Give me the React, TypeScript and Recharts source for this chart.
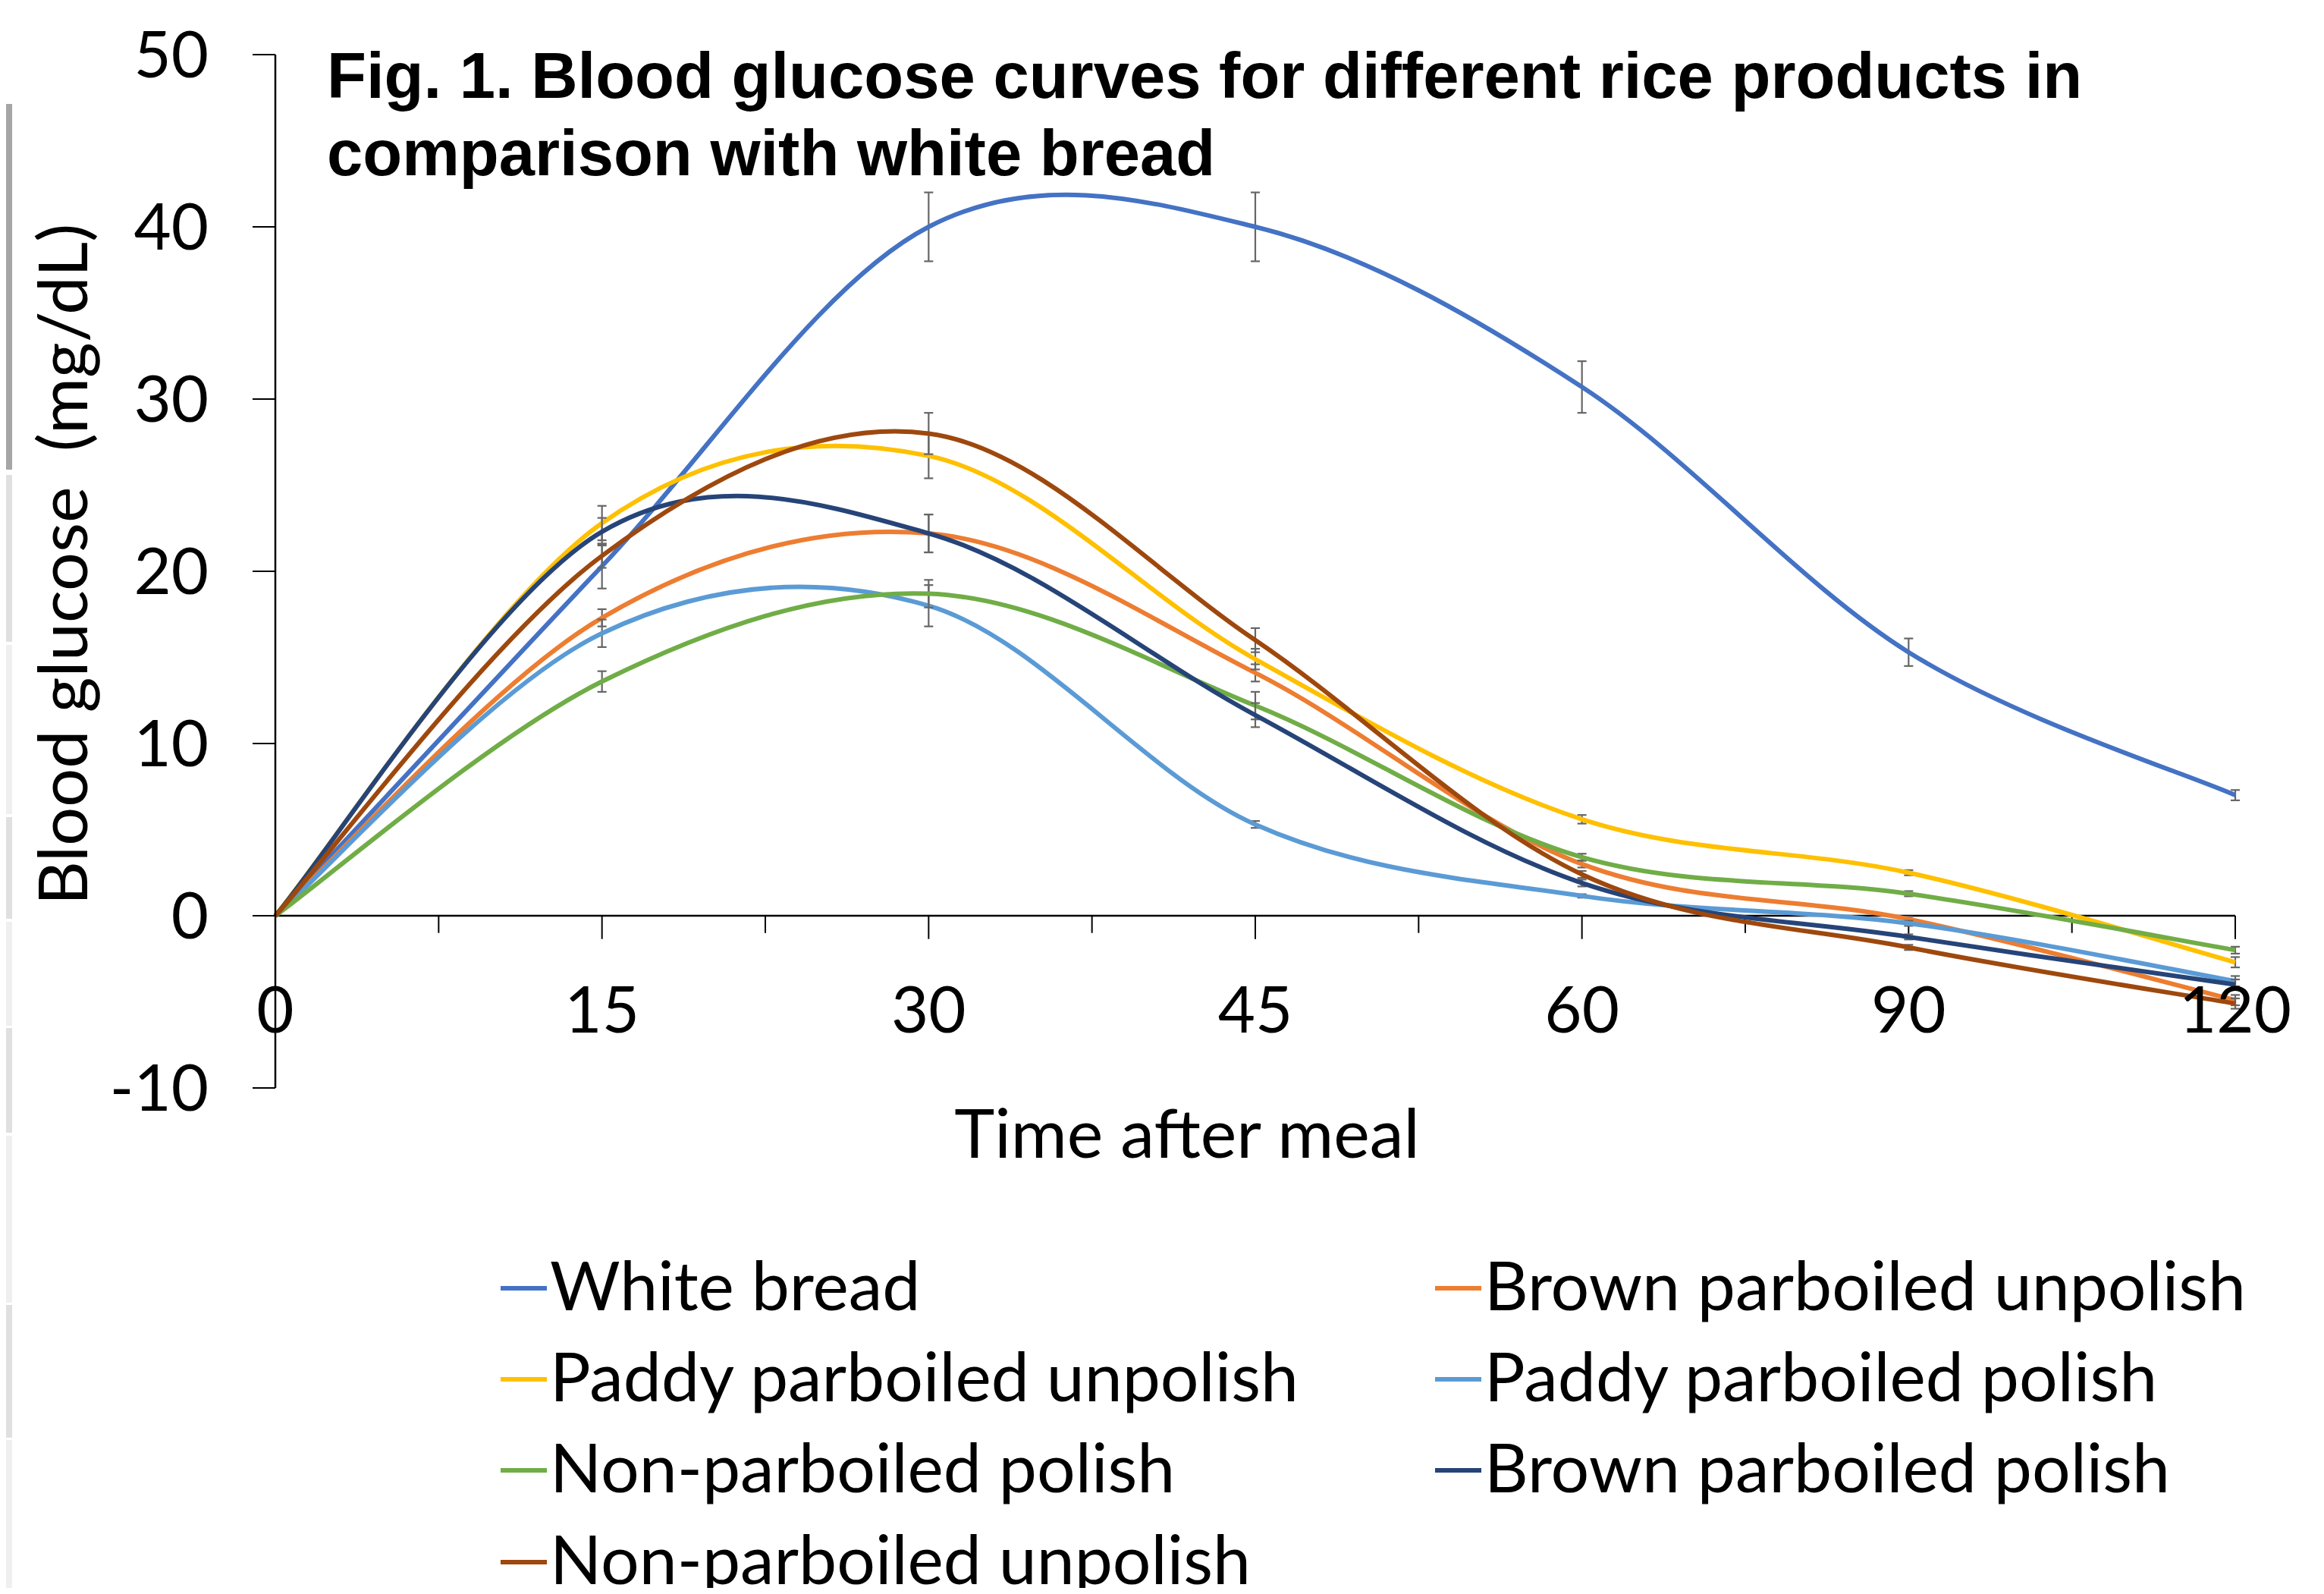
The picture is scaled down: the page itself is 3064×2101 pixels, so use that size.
import React from 'react';
import { LineChart, Line, XAxis, YAxis, ErrorBar, ReferenceLine } from 'recharts';

// ---------- data ----------
const categories = ['0', '15', '30', '45', '60', '90', '120'];
const yTicks = [-10, 0, 10, 20, 30, 40, 50];

const seriesNames = [
  'White bread',
  'Brown parboiled unpolish',
  'Paddy parboiled unpolish',
  'Paddy parboiled polish',
  'Non-parboiled polish',
  'Brown parboiled polish',
  'Non-parboiled unpolish',
];
const seriesColors = ['#4472C4', '#ED7D31', '#FFC000', '#5B9BD5', '#70AD47', '#264478', '#9E480E'];

const whiteBread = [0, 20.3, 40.0, 40.0, 30.7, 15.3, 7.0];
const brownParUnpol = [0, 17.3, 22.2, 14.1, 3.0, -0.2, -4.9];
const paddyParUnpol = [0, 22.8, 26.7, 14.9, 5.6, 2.5, -2.7];
const paddyParPol = [0, 16.4, 18.0, 5.3, 1.15, -0.44, -3.8];
const nonParPol = [0, 13.6, 18.7, 12.2, 3.4, 1.28, -2.0];
const brownParPol = [0, 22.3, 22.2, 11.65, 1.9, -1.23, -4.0];
const nonParUnpol = [0, 20.9, 28.0, 16.0, 2.4, -1.84, -5.1];

const whiteBreadErr = [0, 1.3, 2.0, 2.0, 1.5, 0.8, 0.3];
const brownParUnpolErr = [0, 0.5, 1.1, 0.5, 0.2, 0.15, 0.3];
const paddyParUnpolErr = [0, 1.0, 1.3, 0.6, 0.25, 0.15, 0.3];
const paddyParPolErr = [0, 0.8, 1.2, 0.2, 0.1, 0.15, 0.3];
const nonParPolErr = [0, 0.6, 0.8, 0.8, 0.2, 0.15, 0.2];
const brownParPolErr = [0, 0.8, 1.1, 0.7, 0.2, 0.15, 0.3];
const nonParUnpolErr = [0, 0.7, 1.2, 0.7, 0.2, 0.15, 0.3];

const seriesValues = [whiteBread, brownParUnpol, paddyParUnpol, paddyParPol, nonParPol, brownParPol, nonParUnpol];
const seriesErrors = [whiteBreadErr, brownParUnpolErr, paddyParUnpolErr, paddyParPolErr, nonParPolErr, brownParPolErr, nonParUnpolErr];

const data = categories.map((label, i) => {
  const row: any = { idx: i, label };
  seriesValues.forEach((vals, s) => {
    row['s' + s] = vals[i];
    row['e' + s] = seriesErrors[s][i];
  });
  return row;
});

// Excel-like smoothed line (Catmull-Rom bezier)
function excelSmooth(context: any) {
  let pts: number[][] = [];
  return {
    areaStart() {},
    areaEnd() {},
    lineStart() {
      pts = [];
    },
    lineEnd() {
      const n = pts.length;
      if (!n) return;
      context.moveTo(pts[0][0], pts[0][1]);
      for (let i = 0; i < n - 1; i++) {
        const p0 = pts[Math.max(0, i - 1)];
        const p1 = pts[i];
        const p2 = pts[i + 1];
        const p3 = pts[Math.min(n - 1, i + 2)];
        const c1x = p1[0] + (p2[0] - p0[0]) / 6;
        const c1y = p1[1] + (p2[1] - p0[1]) / 6;
        const c2x = p2[0] - (p3[0] - p1[0]) / 6;
        const c2y = p2[1] - (p3[1] - p1[1]) / 6;
        context.bezierCurveTo(c1x, c1y, c2x, c2y, p2[0], p2[1]);
      }
    },
    point(x: number, y: number) {
      pts.push([+x, +y]);
    },
  };
}

const FONT = 'Lato, "Open Sans", sans-serif';

const XTick = (props: any) => {
  const { x, payload } = props;
  return (
    <text x={x} y={1353} textAnchor="middle" fontSize={85} fontFamily={FONT} fill="#000">
      {categories[payload.value]}
    </text>
  );
};

const majorIdx = categories.map((_, i) => i);
const minorIdx = categories.slice(1).map((_, i) => i + 0.5);

const legendRows = [1698, 1818, 1938, 2059];
const legendCols = [660, 1892];

const leftBars = [
  { y0: 137, y1: 619, c: '#a6a6a6' },
  { y0: 626, y1: 846, c: '#e0e0e0' },
  { y0: 850, y1: 1073, c: '#efefef' },
  { y0: 1077, y1: 1211, c: '#e0e0e0' },
  { y0: 1215, y1: 1352, c: '#efefef' },
  { y0: 1355, y1: 1493, c: '#e0e0e0' },
  { y0: 1497, y1: 1717, c: '#efefef' },
  { y0: 1720, y1: 1895, c: '#e0e0e0' },
  { y0: 1898, y1: 2101, c: '#efefef' },
];

export default function App() {
  return (
    <div style={{ position: 'relative', width: 3048, height: 2085 }}>
      <LineChart
        width={3048}
        height={2085}
        data={data}
        margin={{ top: 64, left: 75, right: 109, bottom: 629 }}
      >
        <XAxis
          dataKey="idx"
          type="number"
          domain={[0, 6]}
          ticks={majorIdx}
          axisLine={false}
          tickLine={false}
          height={30}
          tick={<XTick />}
          interval={0}
        />
        <YAxis
          type="number"
          domain={[-10, 50]}
          ticks={yTicks}
          width={280}
          tickSize={30}
          tickMargin={58}
          interval={0}
          axisLine={{ stroke: '#000', strokeWidth: 2.5 }}
          tickLine={{ stroke: '#000', strokeWidth: 2 }}
          tick={{ fill: '#000', fontSize: 85, fontFamily: FONT }}
        />
        <ReferenceLine y={0} stroke="#000" strokeWidth={2.5} />
        {majorIdx.map((i) => (
          <ReferenceLine
            key={'mj' + i}
            segment={[{ x: i, y: 0 }, { x: i, y: -1.35 }]}
            stroke="#000"
            strokeWidth={2}
          />
        ))}
        {minorIdx.map((i) => (
          <ReferenceLine
            key={'mn' + i}
            segment={[{ x: i, y: 0 }, { x: i, y: -1.0 }]}
            stroke="#000"
            strokeWidth={2}
          />
        ))}
        {seriesNames.map((name, s) => (
          <Line
            key={name}
            name={name}
            dataKey={'s' + s}
            type={excelSmooth as any}
            stroke={seriesColors[s]}
            strokeWidth={6}
            dot={false}
            activeDot={false}
            isAnimationActive={false}
          >
            <ErrorBar dataKey={'e' + s} direction="y" width={6} stroke="#666" strokeWidth={2.2} isAnimationActive={false} />
          </Line>
        ))}
      </LineChart>

      <svg
        width={3064}
        height={2101}
        style={{ position: 'absolute', left: -8, top: -8, pointerEvents: 'none' }}
      >
        {leftBars.map((b, i) => (
          <rect key={i} x={0} y={b.y0} width={16} height={b.y1 - b.y0} fill={b.c} />
        ))}
        <text fontFamily='"Liberation Sans", Arial, sans-serif' fontWeight="bold" fontSize={85} fill="#000">
          <tspan x={431} y={129}>Fig. 1. Blood glucose curves for different rice products in</tspan>
          <tspan x={431} y={231}>comparison with white bread</tspan>
        </text>
        <text
          x={115}
          y={744}
          transform="rotate(-90 115 744)"
          textAnchor="middle"
          fontFamily={FONT}
          fontSize={90}
          fill="#000"
          style={{ whiteSpace: 'pre' }}
        >
          {'Blood glucose  (mg/dL)'}
        </text>
        <text x={1565} y={1526} textAnchor="middle" fontFamily={FONT} fontSize={90} fill="#000">
          Time after meal
        </text>
        {seriesNames.map((name, s) => {
          const col = legendCols[s % 2];
          const row = legendRows[Math.floor(s / 2)];
          return (
            <g key={name}>
              <line x1={col} x2={col + 61} y1={row} y2={row} stroke={seriesColors[s]} strokeWidth={6} />
              <text x={col + 65} y={row + 29} fontFamily={FONT} fontSize={89.5} fill="#000">
                {name}
              </text>
            </g>
          );
        })}
      </svg>
    </div>
  );
}
